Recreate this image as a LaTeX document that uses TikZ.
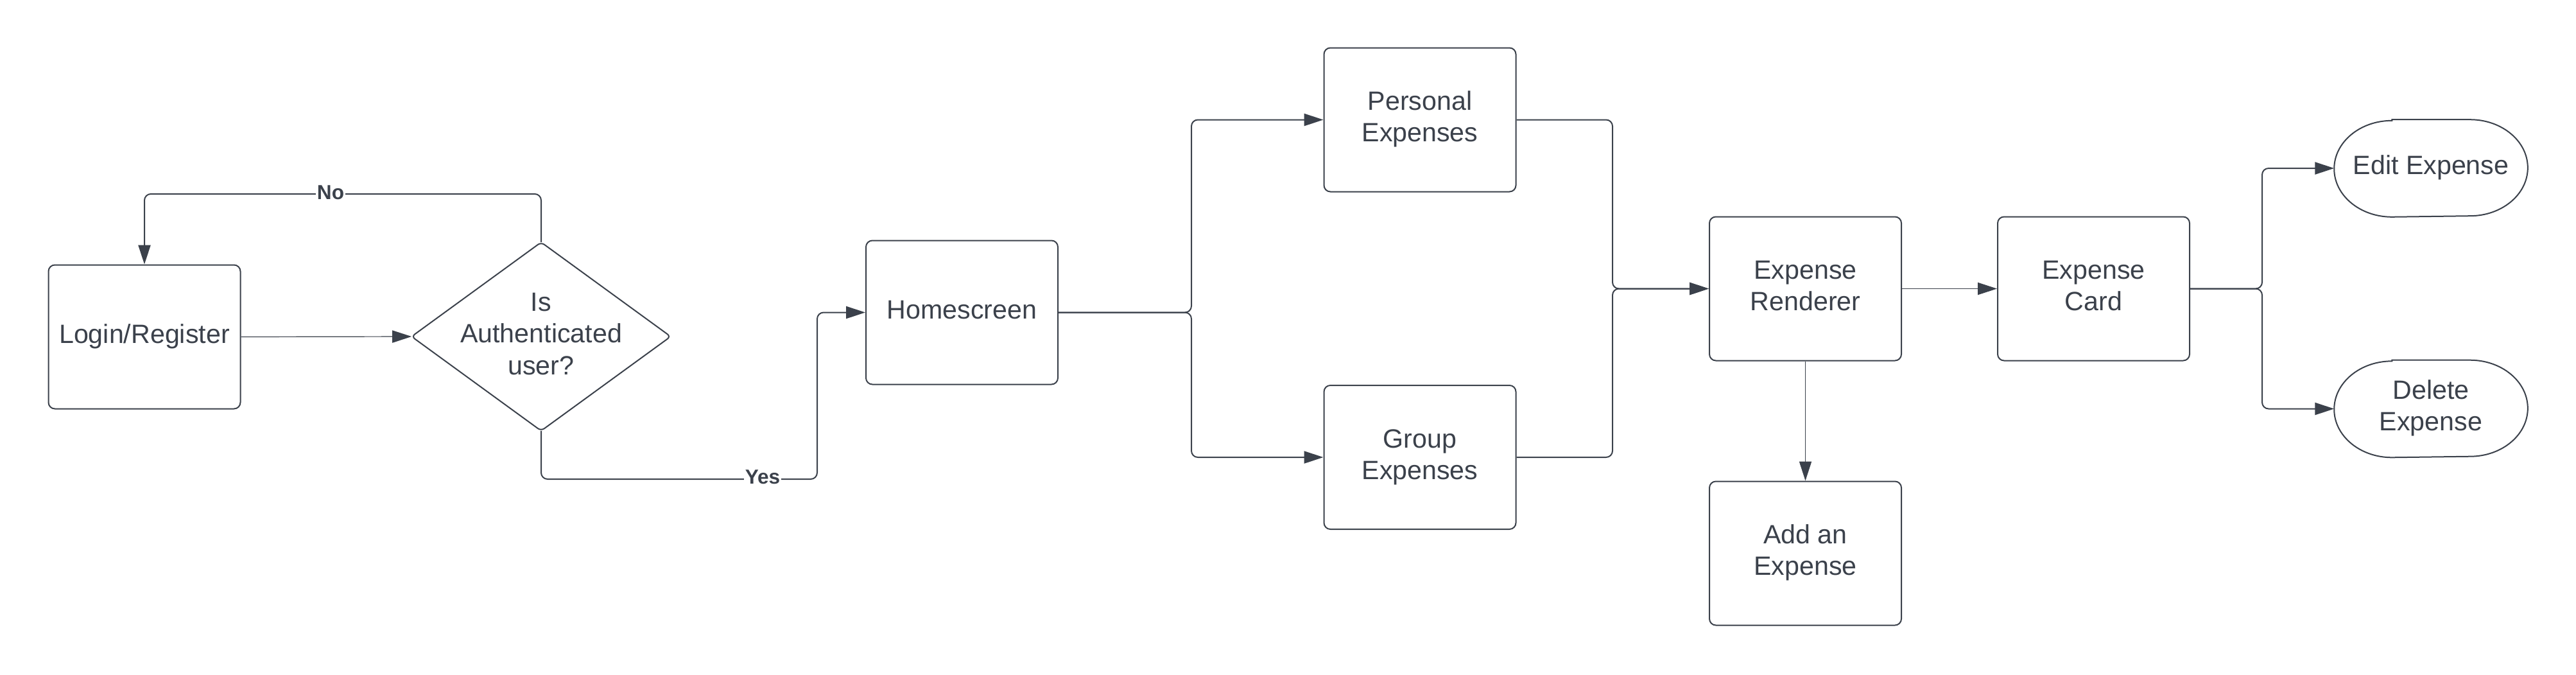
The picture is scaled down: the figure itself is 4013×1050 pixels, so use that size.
\documentclass[tikz,border=0pt]{standalone}
\usepackage{fontspec}
\setmainfont{Liberation Sans}
\usetikzlibrary{arrows.meta,calc}
\definecolor{ink}{HTML}{3B414B}
\newcommand\tlines[2][0pt]{\raisebox{#1}{\begin{tabular}{@{}c@{}}#2\end{tabular}}}
\begin{document}
\begin{tikzpicture}[x=0.25pt,y=-0.25pt,
  txt/.style={text=ink, font=\fontsize{10.3}{12.3}\selectfont, inner sep=0pt},
  box/.style={txt, draw=ink, line width=0.5pt, rounded corners=2.5pt, minimum width=74.75pt, minimum height=56pt},
  shapeonly/.style={txt, shape=rectangle, draw=none},
  outline/.style={draw=ink, line width=0.5pt},
  tip/.style={-{Triangle[length=7.5pt,width=4.8pt]}},
  conn/.style={draw=ink, line width=0.5pt, rounded corners=2.5pt, tip},
  thinconn/.style={draw=ink, line width=0.3pt, tip},
  lbl/.style={fill=white, text=ink, inner sep=0.4pt, font=\fontsize{7.9}{9}\selectfont\bfseries}]
\useasboundingbox (0,0) rectangle (4013,1050);

% nodes
\node[box] (login) at (225,524.5) {\tlines{Login/Register}};
\node[shapeonly, minimum width=100.5pt, minimum height=73pt] (dia) at (843,524) {\tlines[2.6pt]{Is\\Authenticated\\user?}};
\draw[outline, rounded corners=1.5pt] (dia.north) -- (dia.east) -- (dia.south) -- (dia.west) -- cycle;
\node[box] (home) at (1498.5,486.5) {\tlines{Homescreen}};
\node[box] (personal) at (2212,186.5) {\tlines[1.4pt]{Personal\\Expenses}};
\node[box] (group) at (2212,712) {\tlines[1.4pt]{Group\\Expenses}};
\node[box] (rend) at (2812.5,449.5) {\tlines[1.4pt]{Expense\\Renderer}};
\node[box] (card) at (3261.5,449.5) {\tlines[1.4pt]{Expense\\Card}};
\node[box] (add) at (2812.5,861.5) {\tlines[1.4pt]{Add an\\Expense}};
\node[shapeonly, minimum width=75pt, minimum height=37.5pt] (edit) at (3787,262) {\tlines{Edit Expense}};
\node[shapeonly, minimum width=75pt, minimum height=37.5pt] (del) at (3787,636.5) {\tlines[1.2pt]{Delete\\Expense}};
\foreach \n in {edit,del}{
  \draw[outline] ([xshift=22.5pt]\n.north west) -- ([xshift=-22.5pt]\n.north east)
    arc[start angle=90,end angle=-90,x radius=22.5pt,y radius=18.75pt]
    -- ([xshift=22.5pt]\n.south west)
    arc[start angle=270,end angle=90,x radius=22.5pt,y radius=18.75pt] -- cycle;
}

% bend points
\coordinate (n1) at (843,302);
\coordinate (n2) at (225,302);
\coordinate (y1) at (843,746);
\coordinate (y2) at (1273,746);
\coordinate (s1) at (1856,486.5);
\coordinate (j1) at (2512,449.5);
\coordinate (c1) at (3524,449.5);

% connectors
\draw[thinconn] (login.east) -- (dia.west);
\draw[conn] (dia.north) -- (n1) -- (n2) -- (login.north);
\node[lbl] (nolbl) at (515,300) {No};
\draw[conn] (dia.south) -- (y1) -- (y2) |- (home.west);
\node[lbl] (yeslbl) at (1188,743) {Yes};
\draw[conn] (home.east) -- (s1) |- (personal.west);
\draw[conn] (home.east) -- (s1) |- (group.west);
\draw[conn] (personal.east) -| (j1) -- (rend.west);
\draw[conn] (group.east) -| (j1) -- (rend.west);
\draw[thinconn] (rend.east) -- (card.west);
\draw[thinconn] (rend.south) -- (add.north);
\draw[conn] (card.east) -- (c1) |- (edit.west);
\draw[conn] (card.east) -- (c1) |- (del.west);
\end{tikzpicture}
\end{document}
